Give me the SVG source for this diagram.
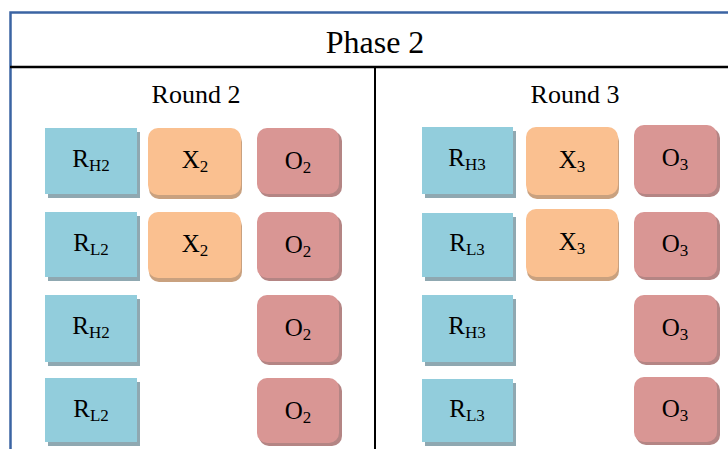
<svg xmlns="http://www.w3.org/2000/svg" width="728" height="449" viewBox="0 0 728 449" font-family="'Liberation Serif', 'Times New Roman', Times, serif">
  <style>
    text { font-family: "Liberation Serif", "Times New Roman", Times, serif; fill: #000; }
    .title { font-size: 32px; text-anchor: middle; }
    .round { font-size: 26px; text-anchor: middle; }
    .lbl { font-size: 25px; text-anchor: middle; }
    .sub { font-size: 17px; }
    .r { fill: #92cddc; }
    .r-sh { fill: #8fa8b1; }
    .x { fill: #fac090; }
    .x-sh { fill: #c9a17f; }
    .o { fill: #d99694; }
    .o-sh { fill: #b48584; }
    .frame { stroke: #3b64a3; stroke-width: 2.5; fill: none; }
    .rule { stroke: #000; stroke-width: 2.5; fill: none; }
    .div { stroke: #000; stroke-width: 2; fill: none; }
  </style>

  <!-- table frame and rules -->
  <g id="table">
    <path class="frame" d="M10.5 449 V12.5 H728"/>
    <line class="rule" x1="10" y1="67" x2="728" y2="67"/>
    <line class="div" x1="375" y1="67" x2="375" y2="449"/>
    <text class="title" x="375" y="53">Phase 2</text>
    <text class="round" x="196" y="103">Round 2</text>
    <text class="round" x="575" y="103">Round 3</text>
  </g>

  <!-- Round 2 column -->
  <g id="rh2-a">
    <rect class="r-sh" x="48" y="132" width="92" height="66"/>
    <rect class="r" x="45" y="128" width="92" height="66"/>
    <text class="lbl" x="91" y="167">R<tspan class="sub" dy="4">H2</tspan></text>
  </g>
  <g id="x2-a">
    <rect class="x-sh" x="149" y="132" width="93" height="67" rx="10"/>
    <rect class="x" x="148" y="128" width="93" height="67" rx="10"/>
    <text class="lbl" x="195" y="168">X<tspan class="sub" dy="4">2</tspan></text>
  </g>
  <g id="o2-a">
    <rect class="o-sh" x="259" y="131" width="83" height="66" rx="10"/>
    <rect class="o" x="257" y="128" width="82" height="66" rx="10"/>
    <text class="lbl" x="298" y="169">O<tspan class="sub" dy="4">2</tspan></text>
  </g>

  <g id="rl2-a">
    <rect class="r-sh" x="48" y="216" width="92" height="65"/>
    <rect class="r" x="45" y="212" width="92" height="65"/>
    <text class="lbl" x="91" y="251">R<tspan class="sub" dy="4">L2</tspan></text>
  </g>
  <g id="x2-b">
    <rect class="x-sh" x="149" y="216" width="93" height="66" rx="10"/>
    <rect class="x" x="148" y="212" width="93" height="66" rx="10"/>
    <text class="lbl" x="195" y="252">X<tspan class="sub" dy="4">2</tspan></text>
  </g>
  <g id="o2-b">
    <rect class="o-sh" x="259" y="215" width="83" height="66" rx="10"/>
    <rect class="o" x="257" y="212" width="82" height="66" rx="10"/>
    <text class="lbl" x="298" y="253">O<tspan class="sub" dy="4">2</tspan></text>
  </g>

  <g id="rh2-b">
    <rect class="r-sh" x="48" y="299" width="92" height="67"/>
    <rect class="r" x="45" y="295" width="92" height="67"/>
    <text class="lbl" x="91" y="334">R<tspan class="sub" dy="4">H2</tspan></text>
  </g>
  <g id="o2-c">
    <rect class="o-sh" x="259" y="298" width="83" height="67" rx="10"/>
    <rect class="o" x="257" y="295" width="82" height="67" rx="10"/>
    <text class="lbl" x="298" y="336">O<tspan class="sub" dy="4">2</tspan></text>
  </g>

  <g id="rl2-b">
    <rect class="r-sh" x="48" y="382" width="92" height="64"/>
    <rect class="r" x="45" y="378" width="92" height="64"/>
    <text class="lbl" x="91" y="417">R<tspan class="sub" dy="4">L2</tspan></text>
  </g>
  <g id="o2-d">
    <rect class="o-sh" x="259" y="381" width="83" height="65" rx="10"/>
    <rect class="o" x="257" y="378" width="82" height="65" rx="10"/>
    <text class="lbl" x="298" y="419">O<tspan class="sub" dy="4">2</tspan></text>
  </g>

  <!-- Round 3 column -->
  <g id="rh3-a">
    <rect class="r-sh" x="425" y="131" width="91" height="67"/>
    <rect class="r" x="422" y="127" width="91" height="67"/>
    <text class="lbl" x="467" y="166">R<tspan class="sub" dy="4">H3</tspan></text>
  </g>
  <g id="x3-a">
    <rect class="x-sh" x="527" y="131" width="92" height="68" rx="10"/>
    <rect class="x" x="526" y="127" width="92" height="68" rx="10"/>
    <text class="lbl" x="572" y="168">X<tspan class="sub" dy="4">3</tspan></text>
  </g>
  <g id="o3-a">
    <rect class="o-sh" x="636" y="128" width="84" height="69" rx="10"/>
    <rect class="o" x="634" y="125" width="83" height="69" rx="10"/>
    <text class="lbl" x="675" y="166">O<tspan class="sub" dy="4">3</tspan></text>
  </g>

  <g id="rl3-a">
    <rect class="r-sh" x="425" y="217" width="91" height="64"/>
    <rect class="r" x="422" y="213" width="91" height="64"/>
    <text class="lbl" x="467" y="251">R<tspan class="sub" dy="4">L3</tspan></text>
  </g>
  <g id="x3-b">
    <rect class="x-sh" x="527" y="213" width="92" height="68" rx="10"/>
    <rect class="x" x="526" y="209" width="92" height="68" rx="10"/>
    <text class="lbl" x="572" y="250">X<tspan class="sub" dy="4">3</tspan></text>
  </g>
  <g id="o3-b">
    <rect class="o-sh" x="636" y="215" width="84" height="65" rx="10"/>
    <rect class="o" x="634" y="212" width="83" height="65" rx="10"/>
    <text class="lbl" x="675" y="252">O<tspan class="sub" dy="4">3</tspan></text>
  </g>

  <g id="rh3-b">
    <rect class="r-sh" x="425" y="299" width="91" height="67"/>
    <rect class="r" x="422" y="295" width="91" height="67"/>
    <text class="lbl" x="467" y="334">R<tspan class="sub" dy="4">H3</tspan></text>
  </g>
  <g id="o3-c">
    <rect class="o-sh" x="636" y="298" width="84" height="67" rx="10"/>
    <rect class="o" x="634" y="295" width="83" height="67" rx="10"/>
    <text class="lbl" x="675" y="336">O<tspan class="sub" dy="4">3</tspan></text>
  </g>

  <g id="rl3-b">
    <rect class="r-sh" x="425" y="383" width="91" height="63"/>
    <rect class="r" x="422" y="379" width="91" height="63"/>
    <text class="lbl" x="467" y="417">R<tspan class="sub" dy="4">L3</tspan></text>
  </g>
  <g id="o3-d">
    <rect class="o-sh" x="636" y="380" width="84" height="65" rx="10"/>
    <rect class="o" x="634" y="377" width="83" height="65" rx="10"/>
    <text class="lbl" x="675" y="417">O<tspan class="sub" dy="4">3</tspan></text>
  </g>
</svg>
